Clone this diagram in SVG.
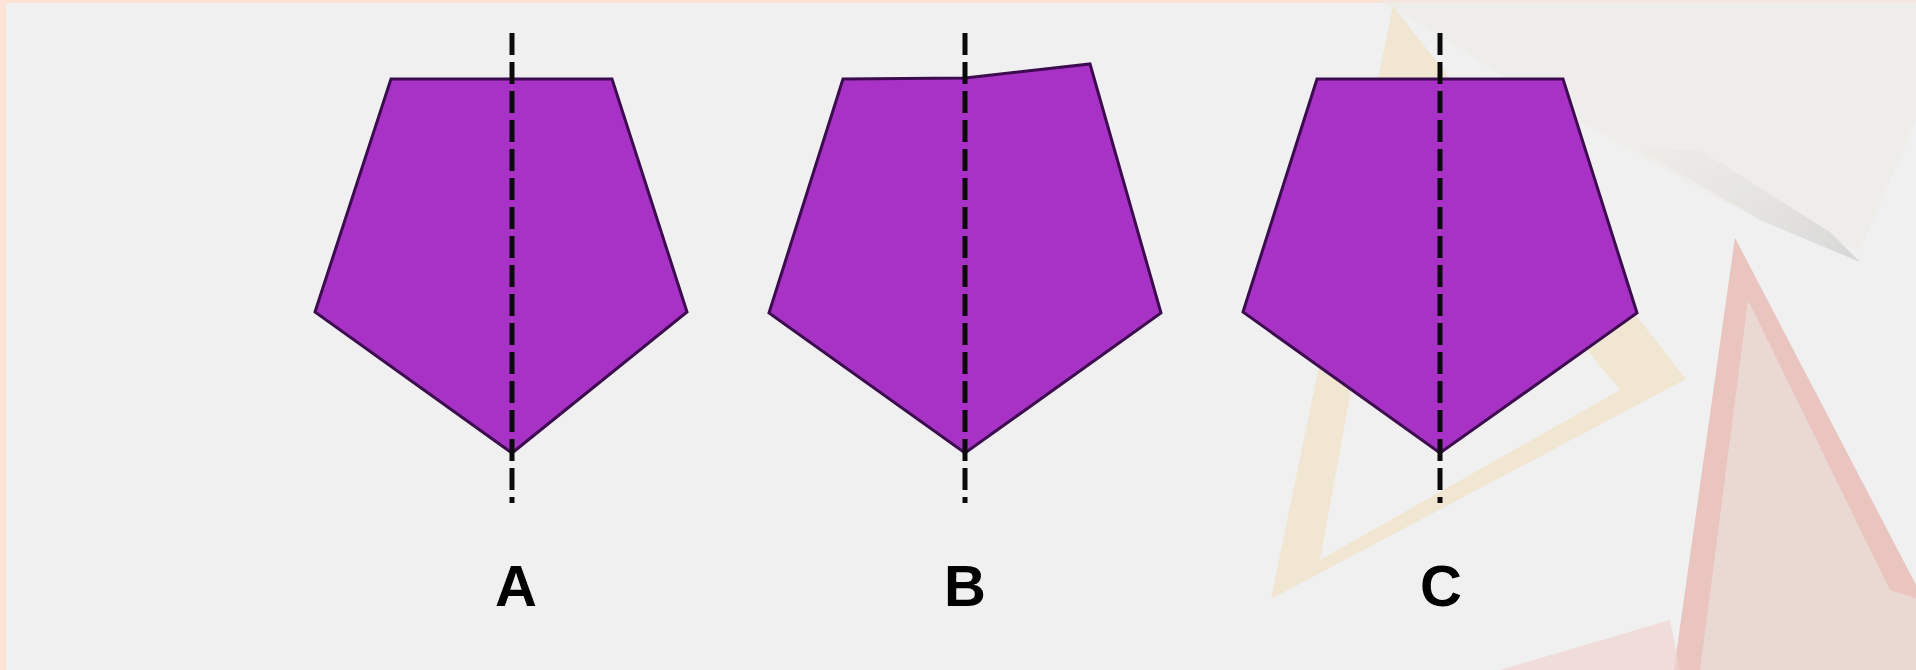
<svg xmlns="http://www.w3.org/2000/svg" width="1916" height="670" viewBox="0 0 1916 670">
<defs>
<style>
.pent{fill:#a932c6;stroke:#3d0b4f;stroke-width:3}
.axis{stroke:#0a0a0a;stroke-width:5;fill:none}
.lbl{font-family:"Liberation Sans",Arial,sans-serif;font-weight:bold;fill:#000}
</style>
<linearGradient id="pencil" x1="0" y1="0" x2="1" y2="1">
<stop offset="0" stop-color="#e8e4da" stop-opacity="0.2"/>
<stop offset="1" stop-color="#c8c8c8" stop-opacity="0.7"/>
</linearGradient>
</defs>
<rect x="0" y="0" width="1916" height="670" fill="#fde2d6"/>
<rect x="6" y="3" width="1910" height="667" fill="#f0f0f0"/>
<g id="background" opacity="0.9">
<path d="M1380,0 L1916,0 L1916,120 L1860,250 L1720,200 L1560,110 Z" fill="#ecebe6" opacity="0.6"/>
<path d="M1640,150 L1760,220 L1860,262 L1830,232 L1700,150 Z" fill="url(#pencil)"/>
<path d="M1271,599 L1393,6 L1686,379 Z M1320,560 L1400,120 L1620,390 Z" fill="#f4dcb2" fill-rule="evenodd" opacity="0.55"/>
<path d="M1735,238 L1916,585 L1916,670 L1674,670 Z" fill="#e9cfc8" opacity="0.8"/>
<path d="M1735,238 L1916,585 L1916,598 L1890,590 L1748,300 L1700,670 L1674,670 Z" fill="#eab0aa" opacity="0.6"/>
<path d="M1500,670 L1670,620 L1680,670 Z" fill="#efd0cc" opacity="0.7"/>
</g>
<g id="shapeA">
<polygon class="pent" points="391,79 612,79 687,312 512,453 315,312"/>
<line class="axis" stroke-dasharray="22 7" x1="512" y1="33" x2="512" y2="503"/>
<text class="lbl" font-size="58" text-anchor="middle" x="516" y="606">A</text>
</g>
<g id="shapeB">
<polygon class="pent" points="843,79 965,78 1090,64 1161,313 965,453 769,313"/>
<line class="axis" stroke-dasharray="22 7" x1="965" y1="33" x2="965" y2="503"/>
<text class="lbl" font-size="58" text-anchor="middle" x="965" y="606">B</text>
</g>
<g id="shapeC">
<polygon class="pent" points="1317,79 1563,79 1637,313 1440,453 1243,312"/>
<line class="axis" stroke-dasharray="22 7" x1="1440" y1="33" x2="1440" y2="503"/>
<text class="lbl" font-size="58" text-anchor="middle" x="1441" y="606">C</text>
</g>
</svg>
